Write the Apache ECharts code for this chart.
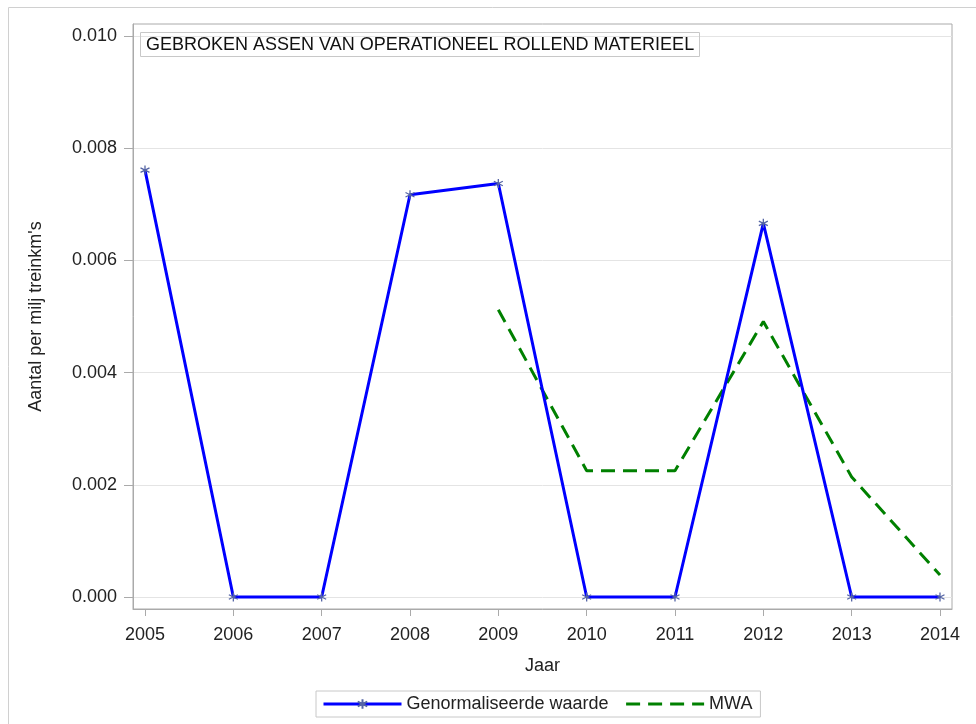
<!DOCTYPE html>
<html><head><meta charset="utf-8">
<script src="https://cdn.jsdelivr.net/npm/echarts@6/dist/echarts.min.js"></script>
<style>html,body{margin:0;padding:0;background:#fff}#c{width:976px;height:724px}</style>
</head><body><div id="c"></div>
<script>
const years = [2005, 2006, 2007, 2008, 2009, 2010, 2011, 2012, 2013, 2014];
const genormaliseerd = [0.00761, 0, 0, 0.00717, 0.00737, 0, 0, 0.00666, 0, 0];
const mwa = [null, null, null, null, 0.00512, 0.00225, 0.00225, 0.00491, 0.00214, 0.00039];
const yTicks = [0, 0.002, 0.004, 0.006, 0.008, 0.010];
const titleText = 'GEBROKEN ASSEN VAN OPERATIONEEL ROLLEND MATERIEEL';

const font = 'Liberation Sans, Arial, sans-serif';
const star = 'path://M0,-10L0,10M-8.66,-5L8.66,5M-8.66,5L8.66,-5';
const chart = echarts.init(document.getElementById('c'));
chart.setOption({
  animation: false,
  graphic: [{type:'rect', shape:{x:8.5,y:7.5,width:975,height:730}, style:{fill:'none', stroke:'#d0d0d0', lineWidth:1}, silent:true}],
  title: {
    text: titleText, left: 140, top: 32, padding: [4, 6, 3, 6],
    borderColor: '#c8c8c8', borderWidth: 1,
    textStyle: {fontFamily: font, fontSize: 18, fontWeight: 'normal', color: '#111'}
  },
  legend: {
    bottom: 7, left: 316, padding: [4, 8, 4, 6],
    borderColor: '#c8c8c8', borderWidth: 1,
    itemWidth: 78, itemHeight: 12, itemGap: 16,
    textStyle: {fontFamily: font, fontSize: 18, color: '#222'},
    data: [
      {name:'Genormaliseerde waarde', lineStyle: {width: 3}},
      {name:'MWA', lineStyle: {width: 3}}
    ]
  },
  grid: {left: 133, right: 24, top: 24, bottom: 115, show: true, borderColor: '#aaa', borderWidth: 1},
  xAxis: {
    type: 'value', min: 2005 - 12/88.33, max: 2014 + 12/88.33,
    name: 'Jaar', nameLocation: 'middle', nameGap: 48,
    nameTextStyle: {fontFamily: font, fontSize: 18, color: '#222'},
    axisLine: {show: true, onZero: false, lineStyle: {color: '#aaa'}},
    axisTick: {show: true, length: 7, lineStyle: {color: '#aaa'}, customValues: years},
    axisLabel: {fontFamily: font, fontSize: 18, color: '#222', margin: 17, customValues: years, formatter: v => String(v)},
    splitLine: {show: false}
  },
  yAxis: {
    type: 'value', min: -12*0.002/112.2, max: 0.010 + 12*0.002/112.2,
    name: "Aantal per milj treinkm's", nameLocation: 'middle', nameGap: 88,
    nameTextStyle: {fontFamily: font, fontSize: 18, color: '#222'},
    axisLine: {show: true, onZero: false, lineStyle: {color: '#aaa'}},
    axisTick: {show: true, length: 9, lineStyle: {color: '#aaa'}, customValues: yTicks},
    axisLabel: {fontFamily: font, fontSize: 18, color: '#222', margin: 16, customValues: yTicks, formatter: v => v.toFixed(3)},
    splitLine: {show: true, lineStyle: {color: '#e4e4e4'}}
  },
  series: [
    {
      name: 'Genormaliseerde waarde', type: 'line',
      data: years.map((y, i) => [y, genormaliseerd[i]]),
      symbol: star, symbolSize: 9,
      itemStyle: {color: '#0000ff', borderColor: '#5565a5', borderWidth: 1.3},
      lineStyle: {color: '#0000ff', width: 3}, z: 3
    },
    {
      name: 'MWA', type: 'line',
      data: years.map((y, i) => [y, mwa[i]]),
      showSymbol: false, symbol: 'none', connectNulls: false,
      itemStyle: {color: '#008000', opacity: 0},
      lineStyle: {color: '#008000', width: 3, type: [14, 8]}, z: 2
    }
  ]
});
</script></body></html>
